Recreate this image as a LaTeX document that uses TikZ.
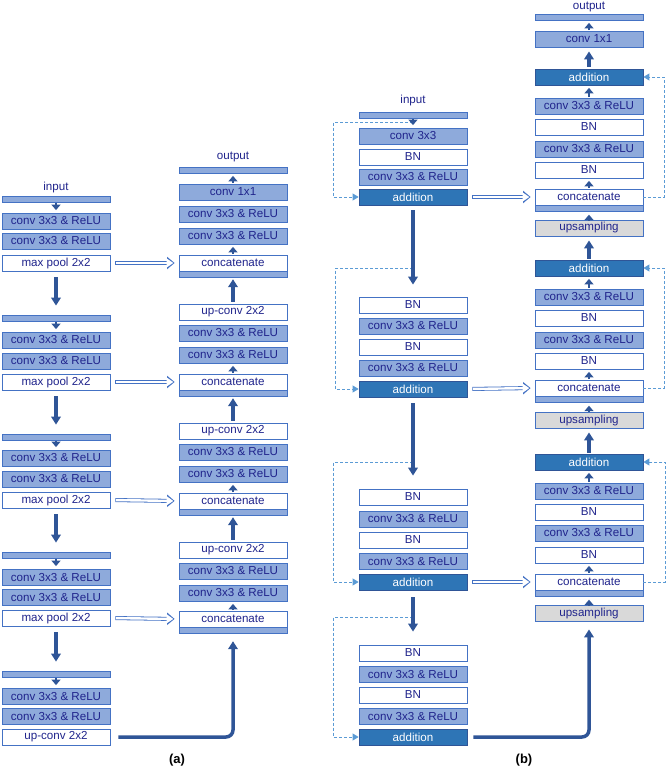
\documentclass[tikz,border=0pt]{standalone}
\usepackage{fontspec}
\setmainfont{Liberation Sans}
\usepackage{xcolor}
\definecolor{navy}{RGB}{32,36,140}
\definecolor{boxline}{RGB}{68,114,196}
\definecolor{convfill}{RGB}{142,170,219}
\definecolor{addfill}{RGB}{46,117,182}
\definecolor{addline}{RGB}{47,85,151}
\definecolor{upgray}{RGB}{217,217,217}
\definecolor{arrowblue}{RGB}{47,85,151}
\definecolor{skipblue}{RGB}{91,155,213}
\usepackage{tikz}
\usetikzlibrary{positioning, arrows.meta, calc}

\begin{document}
\begin{tikzpicture}[
  x=1pt, y=-1pt,
  convbox/.style={draw=boxline, fill=convfill, text=navy, minimum width=108pt, minimum height=16pt, inner sep=0pt, line width=0.8pt, font=\fontsize{11.6}{12}\selectfont},
  plainbox/.style={convbox, fill=white},
  addbox/.style={convbox, fill=addfill, draw=addline, text=white},
  upbox/.style={convbox, fill=upgray},
  barbox/.style={draw=boxline, fill=convfill, minimum width=108pt, minimum height=6pt, inner sep=0pt, line width=0.8pt},
  iolabel/.style={text=navy, font=\fontsize{11.6}{12}\selectfont},
  tag/.style={font=\fontsize{13}{14}\selectfont\bfseries},
  small/.style={line width=2pt, arrowblue, -{Triangle[width=9pt,length=5.5pt]}, shorten <=0.5pt, shorten >=2.5pt},
  bigarrow/.style={line width=3.5pt, arrowblue, -{Triangle[width=9.5pt,length=8pt]}},
  hollow/.style={boxline, line width=4pt, -{Triangle[length=7.5pt,width=12pt]}, shorten <=5pt, shorten >=4pt,
    postaction={draw=white, line width=2.4pt, -{Triangle[length=6.6pt,width=8.6pt]}, shorten <=5.8pt, shorten >=5.3pt}},
  skipline/.style={skipblue, line width=0.9pt, dash pattern=on 3pt off 2pt, -{Triangle[width=7pt,length=6pt]}},
]
  \useasboundingbox (0,0) rectangle (669,770);

  % (a) contracting path
  \node[iolabel] at (56,188) {input};
  \node[barbox] (ab1) at (56,199) {};
  \node[convbox] (ac1a) at (56,221) {conv 3x3 \& ReLU};
  \node[convbox] (ac1b) at (56,241) {conv 3x3 \& ReLU};
  \node[plainbox] (ap1) at (56,263) {max pool 2x2};
  \node[barbox] (ab2) at (56,318) {};
  \node[convbox] (ac2a) at (56,340) {conv 3x3 \& ReLU};
  \node[convbox] (ac2b) at (56,361) {conv 3x3 \& ReLU};
  \node[plainbox] (ap2) at (56,382) {max pool 2x2};
  \node[barbox] (ab3) at (56,437) {};
  \node[convbox] (ac3a) at (56,458) {conv 3x3 \& ReLU};
  \node[convbox] (ac3b) at (56,479) {conv 3x3 \& ReLU};
  \node[plainbox] (ap3) at (56,500) {max pool 2x2};
  \node[barbox] (ab4) at (56,555) {};
  \node[convbox] (ac4a) at (56,577) {conv 3x3 \& ReLU};
  \node[convbox] (ac4b) at (56,597) {conv 3x3 \& ReLU};
  \node[plainbox] (ap4) at (56,618) {max pool 2x2};
  \node[barbox] (ab5) at (56,674) {};
  \node[convbox] (ac5a) at (56,696) {conv 3x3 \& ReLU};
  \node[convbox] (ac5b) at (56,716) {conv 3x3 \& ReLU};
  \node[plainbox] (auc5) at (56,737) {up-conv 2x2};

  % (a) expanding path
  \node[iolabel] at (233,157) {output};
  \node[barbox] (aob) at (233,170) {};
  \node[convbox] (a1x1) at (233,192) {conv 1x1};
  \node[convbox] (ad1a) at (233,214) {conv 3x3 \& ReLU};
  \node[convbox] (ad1b) at (233,236) {conv 3x3 \& ReLU};
  \node[plainbox] (acat1) at (233,263) {concatenate};
  \node[barbox, below=0pt of acat1] (acb1) {};
  \node[plainbox] (au2) at (233,312) {up-conv 2x2};
  \node[convbox] (ad2a) at (233,333) {conv 3x3 \& ReLU};
  \node[convbox] (ad2b) at (233,355) {conv 3x3 \& ReLU};
  \node[plainbox] (acat2) at (233,382) {concatenate};
  \node[barbox, below=0pt of acat2] (acb2) {};
  \node[plainbox] (au3) at (233,431) {up-conv 2x2};
  \node[convbox] (ad3a) at (233,452) {conv 3x3 \& ReLU};
  \node[convbox] (ad3b) at (233,474) {conv 3x3 \& ReLU};
  \node[plainbox] (acat3) at (233,501) {concatenate};
  \node[barbox, below=0pt of acat3] (acb3) {};
  \node[plainbox] (au4) at (233,550) {up-conv 2x2};
  \node[convbox] (ad4a) at (233,571) {conv 3x3 \& ReLU};
  \node[convbox] (ad4b) at (233,593) {conv 3x3 \& ReLU};
  \node[plainbox] (acat4) at (233,619) {concatenate};
  \node[barbox, below=0pt of acat4] (acb4) {};

  % (a) arrows
  \draw[small] (ab1.south) -- (ac1a.north);
  \draw[small] (ab2.south) -- (ac2a.north);
  \draw[small] (ab3.south) -- (ac3a.north);
  \draw[small] (ab4.south) -- (ac4a.north);
  \draw[small] (ab5.south) -- (ac5a.north);
  \draw[bigarrow, shorten <=6pt, shorten >=9pt] (ap1.south) -- (ab2.north);
  \draw[bigarrow, shorten <=6pt, shorten >=9pt] (ap2.south) -- (ab3.north);
  \draw[bigarrow, shorten <=6pt, shorten >=9pt] (ap3.south) -- (ab4.north);
  \draw[bigarrow, shorten <=6pt, shorten >=9pt] (ap4.south) -- (ab5.north);
  \draw[hollow] (ap1.east) -- (acat1.west);
  \draw[hollow] (ap2.east) -- (acat2.west);
  \draw[hollow] (ap3.east) -- (acat3.west);
  \draw[hollow] (ap4.east) -- (acat4.west);
  \draw[small] (a1x1.north) -- (aob.south);
  \draw[small] (acat1.north) -- (ad1b.south);
  \draw[small] (acat2.north) -- (ad2b.south);
  \draw[small] (acat3.north) -- (ad3b.south);
  \draw[small] (acat4.north) -- (ad4b.south);
  \draw[bigarrow, shorten <=2pt, shorten >=1pt] (au2.north) -- (acb1.south);
  \draw[bigarrow, shorten <=2pt, shorten >=1pt] (au3.north) -- (acb2.south);
  \draw[bigarrow, shorten <=2pt, shorten >=1pt] (au4.north) -- (acb3.south);
  \draw[bigarrow, rounded corners=7pt, shorten <=8pt, shorten >=7pt] (auc5.east) -| (acb4.south);
  \node[tag] at (177,760) {(a)};

  % (b) residual encoder
  \node[iolabel] at (413,101) {input};
  \node[barbox] (bb0) at (413,115) {};
  \node[convbox] (bc0) at (413,136) {conv 3x3};
  \node[plainbox] (bbn0) at (413,157) {BN};
  \node[convbox] (bcr0) at (413,177) {conv 3x3 \& ReLU};
  \node[addbox] (badd1) at (413,197) {addition};
  \node[plainbox] (bbn2a) at (413,305) {BN};
  \node[convbox] (bcr2a) at (413,326) {conv 3x3 \& ReLU};
  \node[plainbox] (bbn2b) at (413,347) {BN};
  \node[convbox] (bcr2b) at (413,368) {conv 3x3 \& ReLU};
  \node[addbox] (badd2) at (413,389) {addition};
  \node[plainbox] (bbn3a) at (413,497) {BN};
  \node[convbox] (bcr3a) at (413,519) {conv 3x3 \& ReLU};
  \node[plainbox] (bbn3b) at (413,540) {BN};
  \node[convbox] (bcr3b) at (413,561) {conv 3x3 \& ReLU};
  \node[addbox] (badd3) at (413,582) {addition};
  \node[plainbox] (bbn4a) at (413,653) {BN};
  \node[convbox] (bcr4a) at (413,674) {conv 3x3 \& ReLU};
  \node[plainbox] (bbn4b) at (413,695) {BN};
  \node[convbox] (bcr4b) at (413,716) {conv 3x3 \& ReLU};
  \node[addbox] (badd4) at (413,737) {addition};

  % (b) residual decoder
  \node[iolabel] at (589,7) {output};
  \node[barbox] (bob) at (589,17) {};
  \node[convbox] (b1x1) at (589,39) {conv 1x1};
  \node[addbox] (bsum1) at (589,77) {addition};
  \node[convbox] (br1a) at (589,106) {conv 3x3 \& ReLU};
  \node[plainbox] (br1b) at (589,127) {BN};
  \node[convbox] (br1c) at (589,149) {conv 3x3 \& ReLU};
  \node[plainbox] (br1d) at (589,170) {BN};
  \node[plainbox] (bcat1) at (589,197) {concatenate};
  \node[barbox, below=0pt of bcat1] (bcb1) {};
  \node[upbox] (bup1) at (589,228) {upsampling};
  \node[addbox] (bsum2) at (589,268) {addition};
  \node[convbox] (br2a) at (589,297) {conv 3x3 \& ReLU};
  \node[plainbox] (br2b) at (589,318) {BN};
  \node[convbox] (br2c) at (589,340) {conv 3x3 \& ReLU};
  \node[plainbox] (br2d) at (589,361) {BN};
  \node[plainbox] (bcat2) at (589,388) {concatenate};
  \node[barbox, below=0pt of bcat2] (bcb2) {};
  \node[upbox] (bup2) at (589,420) {upsampling};
  \node[addbox] (bsum3) at (589,462) {addition};
  \node[convbox] (br3a) at (589,491) {conv 3x3 \& ReLU};
  \node[plainbox] (br3b) at (589,512) {BN};
  \node[convbox] (br3c) at (589,533) {conv 3x3 \& ReLU};
  \node[plainbox] (br3d) at (589,555) {BN};
  \node[plainbox] (bcat3) at (589,582) {concatenate};
  \node[barbox, below=0pt of bcat3] (bcb3) {};
  \node[upbox] (bup3) at (589,613) {upsampling};

  % (b) skip branch points
  \coordinate (sk1) at (413,122);
  \coordinate (sk2) at (413,268);
  \coordinate (sk3) at (413,462);
  \coordinate (sk4) at (413,617);

  % (b) arrows
  \draw[skipline] (sk1) -| ([xshift=-25pt]badd1.west) -- (badd1.west);
  \draw[skipline] (sk2) -| ([xshift=-23pt]badd2.west) -- (badd2.west);
  \draw[skipline] (sk3) -| ([xshift=-25pt]badd3.west) -- (badd3.west);
  \draw[skipline] (sk4) -| ([xshift=-25pt]badd4.west) -- (badd4.west);
  \draw[small] (bb0.south) -- (bc0.north);
  \draw[bigarrow, shorten <=5pt, shorten >=12pt] (badd1.south) -- (bbn2a.north);
  \draw[bigarrow, shorten <=6pt, shorten >=13pt] (badd2.south) -- (bbn3a.north);
  \draw[bigarrow, shorten <=7pt, shorten >=13pt] (badd3.south) -- (bbn4a.north);
  \draw[hollow] (badd1.east) -- (bcat1.west);
  \draw[hollow] (badd2.east) -- (bcat2.west);
  \draw[hollow] (badd3.east) -- (bcat3.west);
  \draw[skipline] (bcat1.east) -| ([xshift=21pt]bsum1.east) -- (bsum1.east);
  \draw[skipline] (bcat2.east) -| ([xshift=21pt]bsum2.east) -- (bsum2.east);
  \draw[skipline] (bcat3.east) -| ([xshift=22pt]bsum3.east) -- (bsum3.east);
  \draw[small] (b1x1.north) -- (bob.south);
  \draw[small] (br1a.north) -- (bsum1.south);
  \draw[small] (br2a.north) -- (bsum2.south);
  \draw[small] (br3a.north) -- (bsum3.south);
  \draw[small] (bcat1.north) -- (br1d.south);
  \draw[small] (bcat2.north) -- (br2d.south);
  \draw[small] (bcat3.north) -- (br3d.south);
  \draw[small] (bup1.north) -- (bcb1.south);
  \draw[small] (bup2.north) -- (bcb2.south);
  \draw[small] (bup3.north) -- (bcb3.south);
  \draw[bigarrow, shorten <=2pt, shorten >=4pt] (bsum1.north) -- (b1x1.south);
  \draw[bigarrow, shorten <=1pt, shorten >=4pt] (bsum2.north) -- (bup1.south);
  \draw[bigarrow, shorten <=1pt, shorten >=4pt] (bsum3.north) -- (bup2.south);
  \draw[bigarrow, rounded corners=7pt, shorten <=6pt, shorten >=8pt] (badd4.east) -| (bup3.south);
  \node[tag] at (524,760) {(b)};
\end{tikzpicture}
\end{document}
